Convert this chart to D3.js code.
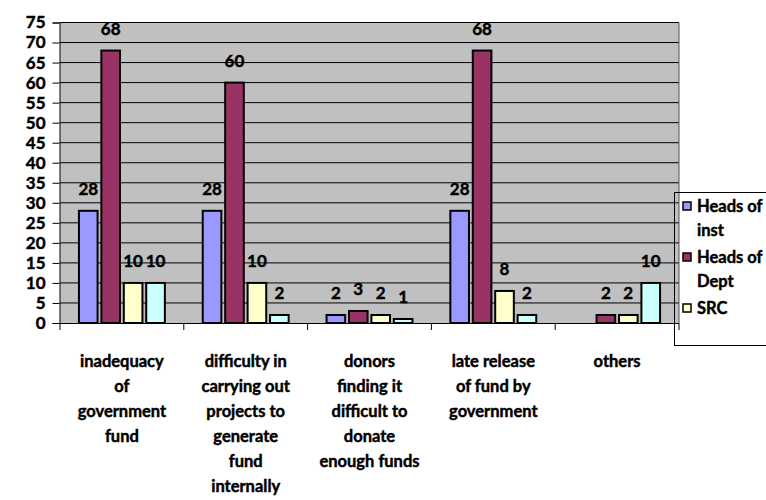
<!DOCTYPE html>
<html>
<head>
<meta charset="utf-8">
<script src="https://cdn.jsdelivr.net/npm/d3@7"></script>
<style>
  html, body { margin: 0; padding: 0; background: #fff; }
  svg { display: block; font-family: Lato, "Open Sans", sans-serif; font-weight: bold; }
  svg text { stroke: #000; stroke-width: 0.45px; }
</style>
</head>
<body>
<svg id="chart" width="766" height="500"></svg>
<script>
// Reasons given for funding problems, by respondent group
const categories = [
  ["inadequacy", "of", "government", "fund"],
  ["difficulty in", "carrying out", "projects to", "generate", "fund", "internally"],
  ["donors", "finding it", "difficult to", "donate", "enough funds"],
  ["late release", "of fund by", "government"],
  ["others"]
];
const seriesNames = ["Heads of inst", "Heads of Dept", "SRC", "Students"];
const headsOfInst = [28, 28, 2, 28, null];
const headsOfDept = [68, 60, 3, 68, 2];
const src = [10, 10, 2, 8, 2];
const students = [10, 2, 1, 2, 10];
const seriesColors = ["#9999FF", "#993366", "#FFFFCC", "#CCFFFF"];
const legendItems = [
  { lines: ["Heads of", "inst"], series: 0 },
  { lines: ["Heads of", "Dept"], series: 1 },
  { lines: ["SRC"], series: 2 }
];
const yTicks = d3.range(0, 76, 5);

const allSeries = [headsOfInst, headsOfDept, src, students];

const svg = d3.select("#chart");
const plot = { left: 60, right: 679, top: 22.5, bottom: 323 };

const x0 = d3.scaleBand()
  .domain(d3.range(categories.length))
  .range([plot.left, plot.right])
  .paddingInner(0)
  .paddingOuter(0);

const x1 = d3.scaleBand()
  .domain(d3.range(allSeries.length))
  .range([0, x0.bandwidth()])
  .paddingOuter(0.8)
  .paddingInner(0.08);

const y = d3.scaleLinear().domain([0, 75]).range([plot.bottom, plot.top]);

// plot background
svg.append("rect")
  .attr("x", plot.left).attr("y", plot.top)
  .attr("width", plot.right - plot.left).attr("height", plot.bottom - plot.top)
  .attr("fill", "#C0C0C0");

// horizontal gridlines
svg.append("g")
  .selectAll("line")
  .data(yTicks.filter(d => d > 0))
  .join("line")
  .attr("x1", plot.left).attr("x2", plot.right)
  .attr("y1", d => y(d)).attr("y2", d => y(d))
  .attr("stroke", "#000").attr("stroke-width", 1);

// right border of plot
svg.append("line")
  .attr("x1", plot.right).attr("x2", plot.right)
  .attr("y1", plot.top).attr("y2", plot.bottom)
  .attr("stroke", "#555").attr("stroke-width", 1);

// y axis
const yAxis = d3.axisLeft(y).tickValues(yTicks).tickSize(7).tickPadding(7);
const gy = svg.append("g").attr("transform", `translate(${plot.left - 0.5},0)`).call(yAxis);
gy.select(".domain").attr("stroke", "#000");
gy.selectAll(".tick line").attr("stroke", "#000");
gy.selectAll(".tick text")
  .attr("font-size", 17).attr("font-weight", "bold")
  .attr("font-family", "Lato, sans-serif").attr("fill", "#000");

// x axis baseline and category ticks
svg.append("line")
  .attr("x1", plot.left - 7).attr("x2", plot.right)
  .attr("y1", plot.bottom + 0.5).attr("y2", plot.bottom + 0.5)
  .attr("stroke", "#000");
svg.append("g")
  .selectAll("line")
  .data(d3.range(categories.length + 1))
  .join("line")
  .attr("x1", i => i < categories.length ? x0(i) : plot.right)
  .attr("x2", i => i < categories.length ? x0(i) : plot.right)
  .attr("y1", plot.bottom).attr("y2", plot.bottom + 7)
  .attr("stroke", "#000");

// bars
const groups = svg.append("g")
  .selectAll("g")
  .data(categories.map((c, i) => i))
  .join("g")
  .attr("transform", i => `translate(${x0(i)},0)`);

const cells = groups.selectAll("g")
  .data(i => allSeries.map((s, k) => ({ k, v: s[i] })))
  .join("g");

cells.filter(d => d.v != null)
  .append("rect")
  .attr("x", d => x1(d.k) + 1)
  .attr("y", d => y(d.v))
  .attr("width", x1.bandwidth() - 2)
  .attr("height", d => y(0) - y(d.v))
  .attr("fill", d => seriesColors[d.k])
  .attr("stroke", "#000").attr("stroke-width", 2);

cells.filter(d => d.v != null)
  .append("text")
  .attr("x", d => x1(d.k) + x1.bandwidth() / 2)
  .attr("y", d => y(d.v) - 16)
  .attr("text-anchor", "middle")
  .attr("font-size", 17)
  .attr("fill", "#000")
  .text(d => d.v);

// category labels
const catLabels = svg.append("g")
  .selectAll("text")
  .data(categories)
  .join("text")
  .attr("x", (c, i) => x0(i) + x0.bandwidth() / 2)
  .attr("y", 367)
  .attr("text-anchor", "middle")
  .attr("font-size", 16.5)
  .attr("fill", "#000");
catLabels.selectAll("tspan")
  .data(c => c)
  .join("tspan")
  .attr("x", function () { return d3.select(this.parentNode).attr("x"); })
  .attr("dy", (d, j) => j === 0 ? 0 : 25)
  .text(d => d);

// legend
const legend = svg.append("g");
legend.append("rect")
  .attr("x", 674.5).attr("y", 192.5)
  .attr("width", 120).attr("height", 153)
  .attr("fill", "none").attr("stroke", "#000");

let ly = 206;
legendItems.forEach(item => {
  legend.append("rect")
    .attr("x", 683).attr("y", ly - 4)
    .attr("width", 8).attr("height", 8)
    .attr("fill", seriesColors[item.series])
    .attr("stroke", "#000").attr("stroke-width", 1.5);
  const t = legend.append("text")
    .attr("x", 697).attr("y", ly + 6)
    .attr("font-size", 16.5).attr("fill", "#000");
  item.lines.forEach((ln, j) => {
    t.append("tspan").attr("x", 697).attr("dy", j === 0 ? 0 : 24).text(ln);
  });
  ly += 51;
});
</script>
</body>
</html>
